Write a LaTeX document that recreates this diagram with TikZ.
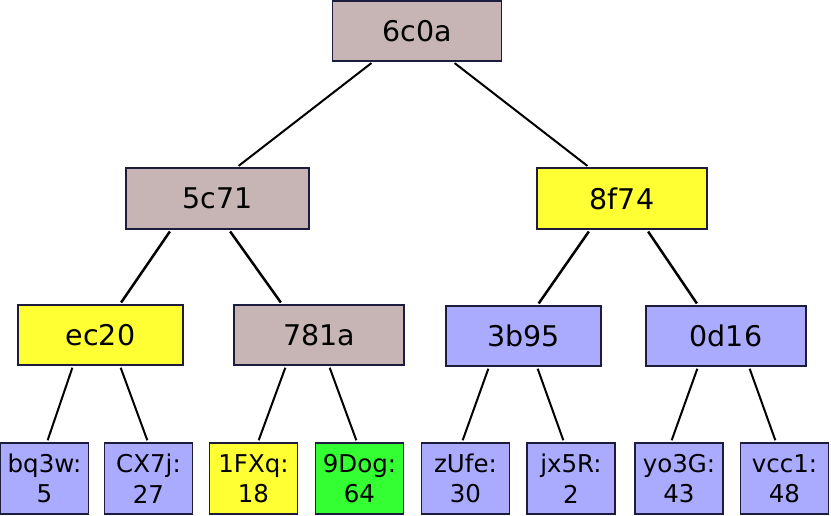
\documentclass[tikz,border=0pt]{standalone}
\usepackage{fontspec}
\setmainfont{DejaVu Sans}
\definecolor{mauve}{RGB}{199,181,181}
\definecolor{yel}{RGB}{255,255,51}
\definecolor{blu}{RGB}{170,170,255}
\definecolor{grn}{RGB}{51,255,51}
\definecolor{edge}{RGB}{28,28,60}
\tikzset{
  box/.style={draw=edge,line width=1.7pt,rectangle,inner sep=0pt,font=\fontsize{28.5}{34}\selectfont},
  leaf/.style={draw=edge,line width=1.7pt,rectangle,inner sep=0pt,align=center,minimum width=88pt,minimum height=71pt,font=\fontsize{24.5}{30.5}\selectfont},
  conn/.style={line width=2pt,shorten <=2pt,shorten >=2pt},
  thick conn/.style={conn,line width=2.5pt}
}
\begin{document}
\begin{tikzpicture}[x=1pt,y=-1pt]
\useasboundingbox (0,0) rectangle (831,516);
\node[box,fill=mauve,minimum width=169pt,minimum height=60pt] (n6c0a) at (417,31) {6c0a};
\node[box,fill=mauve,minimum width=183pt,minimum height=61pt] (n5c71) at (217.5,198.5) {5c71};
\node[box,fill=yel,minimum width=170pt,minimum height=61pt] (n8f74) at (622,198.5) {8f74};
\node[box,fill=yel,minimum width=165pt,minimum height=60pt] (nec20) at (100.5,335) {ec20};
\node[box,fill=mauve,minimum width=170pt,minimum height=60pt] (n781a) at (319,335) {781a};
\node[box,fill=blu,minimum width=155pt,minimum height=60pt] (n3b95) at (523.5,336) {3b95};
\node[box,fill=blu,minimum width=160pt,minimum height=60pt] (n0d16) at (726,336) {0d16};
\node[leaf,fill=blu] (bq3w) at (44.5,478.5) {bq3w:\\5};
\node[leaf,fill=blu] (CX7j) at (148.5,478.5) {CX7j:\\27};
\node[leaf,fill=yel] (FXq) at (253.5,478.5) {1FXq:\\18};
\node[leaf,fill=grn] (Dog) at (359.5,478.5) {9Dog:\\64};
\node[leaf,fill=blu] (zUfe) at (465.5,478.5) {zUfe:\\30};
\node[leaf,fill=blu] (jx5R) at (571,478.5) {jx5R:\\2};
\node[leaf,fill=blu] (yo3G) at (679,478.5) {yo3G:\\43};
\node[leaf,fill=blu] (vcc1) at (784.5,478.5) {vcc1:\\48};
\draw[conn] ([xshift=-44pt]n6c0a.south) -- ([xshift=19.5pt]n5c71.north);
\draw[conn] ([xshift=36pt]n6c0a.south) -- ([xshift=-33pt]n8f74.north);
\draw[thick conn] ([xshift=-46.5pt]n5c71.south) -- ([xshift=19.5pt]nec20.north);
\draw[thick conn] ([xshift=11.5pt]n5c71.south) -- ([xshift=-37pt]n781a.north);
\draw[thick conn] ([xshift=-32pt]n8f74.south) -- ([xshift=14pt]n3b95.north);
\draw[thick conn] ([xshift=25pt]n8f74.south) -- ([xshift=-28pt]n0d16.north);
\draw[conn] ([xshift=-27.5pt]nec20.south) -- ([xshift=2.5pt]bq3w.north);
\draw[conn] ([xshift=19.5pt]nec20.south) -- ([xshift=-0.5pt]CX7j.north);
\draw[conn] ([xshift=-33pt]n781a.south) -- ([xshift=4.5pt]FXq.north);
\draw[conn] ([xshift=10pt]n781a.south) -- ([xshift=-2.5pt]Dog.north);
\draw[conn] ([xshift=-34.5pt]n3b95.south) -- ([xshift=-3.5pt]zUfe.north);
\draw[conn] ([xshift=13.5pt]n3b95.south) -- ([xshift=-7pt]jx5R.north);
\draw[conn] ([xshift=-28pt]n0d16.south) -- ([xshift=-8pt]yo3G.north);
\draw[conn] ([xshift=23pt]n0d16.south) -- ([xshift=-8.5pt]vcc1.north);
\end{tikzpicture}
\end{document}
